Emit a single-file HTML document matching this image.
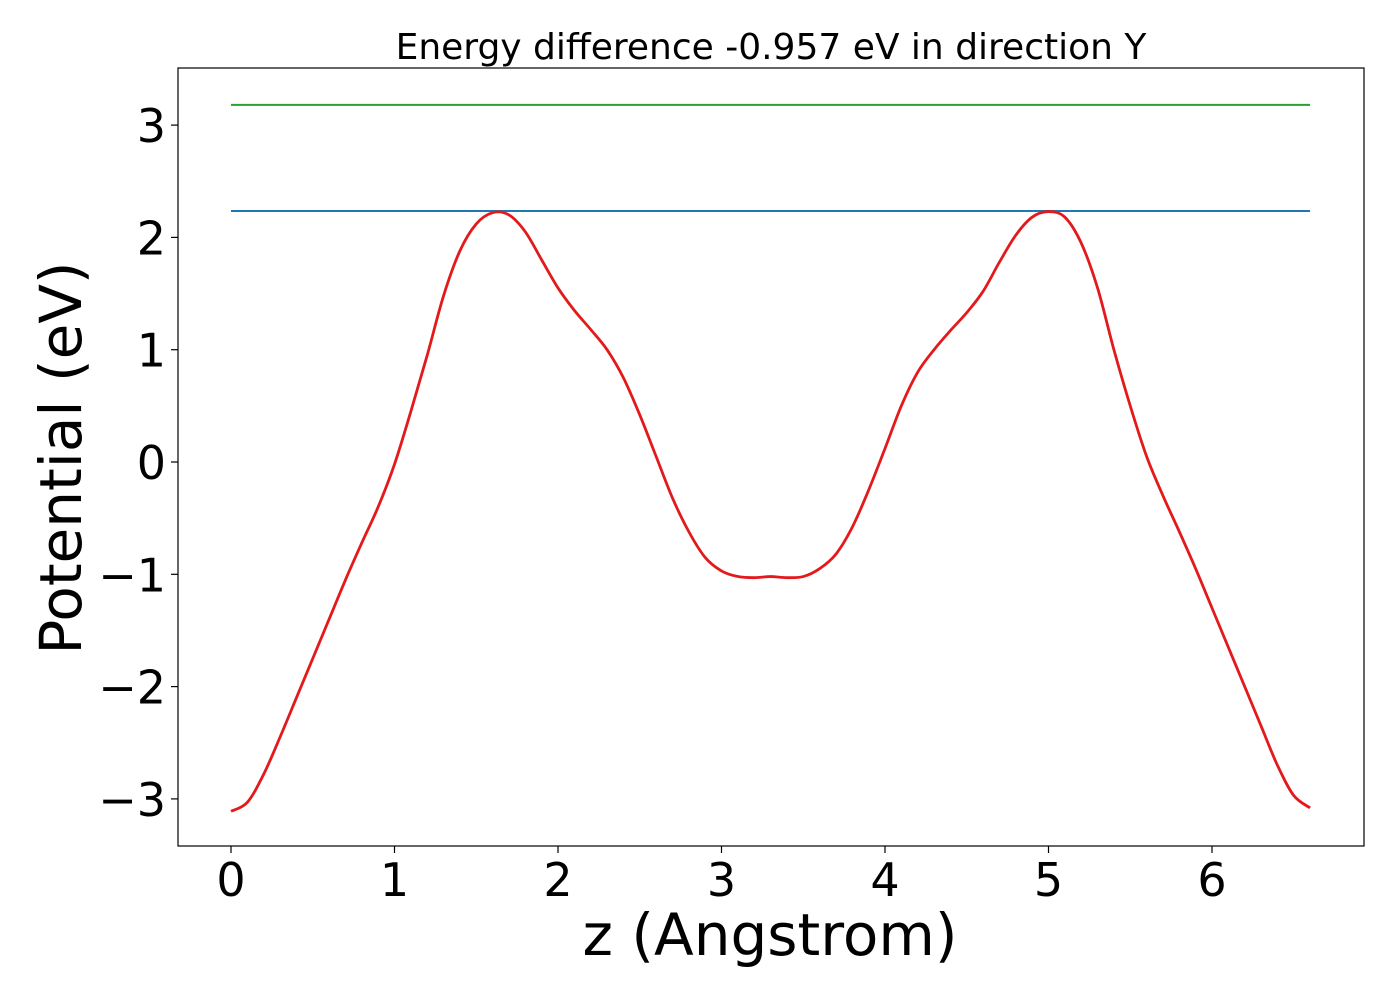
<!DOCTYPE html>
<html><head><meta charset="utf-8"><style>
body{margin:0;background:#fff;}
svg text{font-family:"DejaVu Sans","Liberation Sans",sans-serif;fill:#000;}
</style></head><body>
<svg id="chart" width="1400" height="1000">
<rect x="0" y="0" width="1400" height="1000" fill="#fff"/>
<text x="771" y="59" font-size="36" text-anchor="middle">Energy difference -0.957 eV in direction Y</text>
<g id="marks"></g>
<rect x="178" y="68" width="1186" height="778" fill="none" stroke="#000" stroke-width="1.2"/>
<g id="xticks"></g><g id="yticks"></g>
<text x="770" y="955" font-size="58" text-anchor="middle">z (Angstrom)</text>
<text transform="translate(81,458) rotate(-90)" font-size="58" text-anchor="middle">Potential (eV)</text>
</svg>
<script>
const zValues=[0,0.1,0.2,0.3,0.4,0.5,0.6,0.7,0.8,0.9,1.0,1.1,1.2,1.3,1.4,1.5,1.6,1.7,1.8,1.9,2.0,2.1,2.2,2.3,2.4,2.5,2.6,2.7,2.8,2.9,3.0,3.1,3.2,3.3,3.4,3.5,3.6,3.7,3.8,3.9,4.0,4.1,4.2,4.3,4.4,4.5,4.6,4.7,4.8,4.9,5.0,5.1,5.2,5.3,5.4,5.5,5.6,5.7,5.8,5.9,6.0,6.1,6.2,6.3,6.4,6.5,6.6];
const potential=[-3.11,-3.03,-2.78,-2.45,-2.1,-1.75,-1.4,-1.05,-0.72,-0.4,-0.02,0.45,0.95,1.48,1.88,2.12,2.22,2.2,2.05,1.8,1.55,1.35,1.18,1.0,0.75,0.42,0.05,-0.32,-0.62,-0.85,-0.97,-1.02,-1.03,-1.02,-1.03,-1.02,-0.95,-0.82,-0.58,-0.25,0.12,0.5,0.8,1.0,1.17,1.33,1.52,1.78,2.02,2.18,2.23,2.18,1.95,1.55,1.0,0.5,0.05,-0.3,-0.62,-0.95,-1.3,-1.65,-2.0,-2.35,-2.7,-2.97,-3.08];
const maxLevel=[2.235];
const vacuumLevel=[3.18];
const xTicks=[0,1,2,3,4,5,6];
const yTicks=[-3,-2,-1,0,1,2,3];
const NS="http://www.w3.org/2000/svg";
function xs(v){return 231+v*163.5;}
function ys(v){return 462-v*112.3;}
const marks=document.getElementById('marks');
function line(x1,y1,x2,y2,c,name){const l=document.createElementNS(NS,'line');l.setAttribute('x1',x1);l.setAttribute('y1',y1);l.setAttribute('x2',x2);l.setAttribute('y2',y2);l.setAttribute('stroke',c);l.setAttribute('stroke-width',2);


return l;}
const z0=zValues[0],z1=zValues[zValues.length-1];
marks.appendChild(line(xs(z0),ys(vacuumLevel[0]),xs(z1),ys(vacuumLevel[0]),'#2ca02c','vacuum-level-line'));
marks.appendChild(line(xs(z0),ys(maxLevel[0]),xs(z1),ys(maxLevel[0]),'#1f77b4','max-potential-line'));
const P=zValues.map((z,i)=>[xs(z),ys(potential[i])]);
let d='M'+P[0][0]+','+P[0][1];
for(let i=0;i<P.length-1;i++){const p0=P[Math.max(0,i-1)],p1=P[i],p2=P[i+1],p3=P[Math.min(P.length-1,i+2)];
const c1=[p1[0]+(p2[0]-p0[0])/6,p1[1]+(p2[1]-p0[1])/6],c2=[p2[0]-(p3[0]-p1[0])/6,p2[1]-(p3[1]-p1[1])/6];
d+=' C'+c1[0]+','+c1[1]+' '+c2[0]+','+c2[1]+' '+p2[0]+','+p2[1];}
const pl=document.createElementNS(NS,'path');
pl.setAttribute('d',d);
pl.setAttribute('fill','none');pl.setAttribute('stroke','#e31a1c');pl.setAttribute('stroke-width',2.8);pl.setAttribute('stroke-linejoin','round');


marks.appendChild(pl);
const xg=document.getElementById('xticks');
xTicks.forEach(t=>{const x=xs(t);
const tk=line(x,846,x,853,'#000','x-tick');tk.setAttribute('stroke-width',1.2);xg.appendChild(tk);
const tx=document.createElementNS(NS,'text');tx.setAttribute('x',x);tx.setAttribute('y',896);tx.setAttribute('font-size',46);tx.setAttribute('text-anchor','middle');tx.textContent=t;


xg.appendChild(tx);});
const yg=document.getElementById('yticks');
yTicks.forEach(t=>{const y=ys(t);
const tk=line(171,y,178,y,'#000','y-tick');tk.setAttribute('stroke-width',1.2);yg.appendChild(tk);
const tx=document.createElementNS(NS,'text');tx.setAttribute('x',166);tx.setAttribute('y',y+17);tx.setAttribute('font-size',46);tx.setAttribute('text-anchor','end');tx.textContent=t<0?'\u2212'+Math.abs(t):String(t);


yg.appendChild(tx);});
</script>
</body></html>
